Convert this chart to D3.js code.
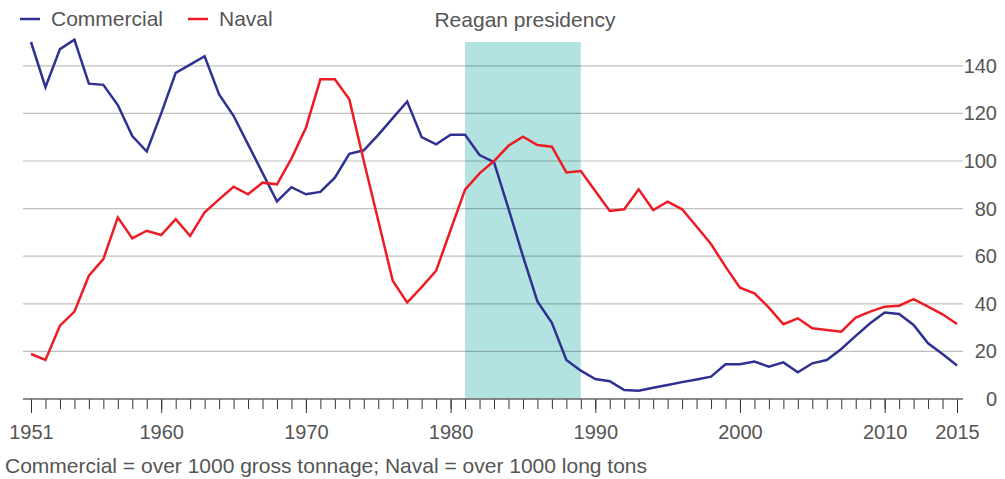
<!DOCTYPE html>
<html>
<head>
<meta charset="utf-8">
<script src="https://cdn.jsdelivr.net/npm/d3@7"></script>
<style>
  body { margin: 0; background: #fff; }
  svg { display: block; font-family: "Liberation Sans", Arial, sans-serif; }
</style>
</head>
<body>
<svg id="chart" width="1005" height="479"></svg>
<script>
// years 1951..2015
const years = d3.range(1951, 2016);

// ships launched per year
const commercial = [
  150, 131, 147, 151, 132.5, 132, 123.5, 110.5, 104, 120,
  137, 140.5, 144, 128, 119, 107, 95, 83, 89, 86,
  87, 93, 103, 104.5, 111, 118, 125, 110, 107, 111,
  111, 102.5, 99.5, 80, 60, 41, 32, 16.4, 11.9, 8.4,
  7.5, 3.8, 3.5, 4.7, 5.9, 7.1, 8.2, 9.4, 14.6, 14.6,
  15.7, 13.6, 15.4, 11.2, 15, 16.4, 21, 26.5, 31.8, 36.3,
  35.7, 31.1, 23.4, 18.9, 14.1
];
const naval = [
  18.9, 16.4, 30.8, 36.7, 51.8, 58.8, 76.3, 67.5, 70.7, 68.9,
  75.6, 68.5, 78.4, 83.9, 89.2, 86, 90.9, 90.2, 101, 114,
  134.3, 134.3, 125.9, 100, 75, 49.7, 40.5, 47, 53.9, 71,
  88, 94.8, 100, 106.4, 110.2, 106.7, 106, 95.2, 95.8, 87.4,
  79, 79.7, 88.1, 79.4, 82.9, 79.7, 72.5, 65.1, 55.6, 46.8,
  44.4, 38.4, 31.4, 33.9, 29.7, 29, 28.3, 34.2, 36.7, 38.8,
  39.2, 42, 38.8, 35.6, 31.5
];

const yTicks = [0, 20, 40, 60, 80, 100, 120, 140];
const xLabels = [1951, 1960, 1970, 1980, 1990, 2000, 2010, 2015];
const reagan = [1981, 1989];

const seriesNames = ["Commercial", "Naval"];
const seriesColors = ["#2e3192", "#ed1c24"];

const svg = d3.select("#chart");
const textColor = "#555";

const x = d3.scaleLinear().domain([1951, 2015]).range([31, 957]);
const y = d3.scaleLinear().domain([0, 150]).range([399, 42]);

// shaded presidency band
svg.append("rect")
  .attr("x", x(reagan[0]))
  .attr("y", y(150))
  .attr("width", x(reagan[1]) - x(reagan[0]))
  .attr("height", y(0) - y(150))
  .attr("fill", "#b3e3e0");

svg.append("text")
  .attr("x", (x(reagan[0]) + x(reagan[1])) / 2 + 2)
  .attr("y", 27)
  .attr("text-anchor", "middle")
  .attr("font-size", 21)
  .attr("fill", textColor)
  .text("Reagan presidency");

// gridlines + right-hand labels
const yAxis = d3.axisRight(y)
  .tickValues(yTicks)
  .tickSize(0)
  .tickPadding(0)
  .tickFormat(d3.format("d"));

svg.append("g")
  .selectAll("line")
  .data(yTicks.filter(d => d > 0))
  .join("line")
  .attr("x1", 23)
  .attr("x2", 963)
  .attr("y1", d => y(d))
  .attr("y2", d => y(d))
  .attr("stroke", "#000")
  .attr("stroke-opacity", 0.25)
  .attr("stroke-width", 1.2);

const yg = svg.append("g")
  .attr("transform", "translate(997,0)")
  .call(yAxis);
yg.select(".domain").remove();
yg.selectAll("text")
  .attr("text-anchor", "end")
  .attr("font-size", 20)
  .attr("font-family", "Liberation Sans, Arial, sans-serif")
  .attr("fill", textColor);

// x axis: minor ticks every year, long ticks at labelled years
const xMinor = d3.axisBottom(x)
  .tickValues(years)
  .tickSize(10)
  .tickFormat("");
const xMajor = d3.axisBottom(x)
  .tickValues(xLabels)
  .tickSize(14)
  .tickPadding(12)
  .tickFormat(d3.format("d"));

const xgMinor = svg.append("g")
  .attr("transform", `translate(0,${y(0)})`)
  .call(xMinor);
xgMinor.select(".domain").remove();
xgMinor.selectAll("line").attr("stroke", "#333");

const xgMajor = svg.append("g")
  .attr("transform", `translate(0,${y(0)})`)
  .call(xMajor);
xgMajor.select(".domain").remove();
xgMajor.selectAll("line").attr("stroke", "#333");
xgMajor.selectAll("text")
  .attr("font-size", 20)
  .attr("font-family", "Liberation Sans, Arial, sans-serif")
  .attr("fill", textColor);

svg.append("line")
  .attr("x1", 23)
  .attr("x2", 963)
  .attr("y1", y(0))
  .attr("y2", y(0))
  .attr("stroke", "#666")
  .attr("stroke-width", 1.5);

// the two series
const line = d3.line()
  .x((d, i) => x(years[i]))
  .y(d => y(d));

[commercial, naval].forEach((vals, k) => {
  svg.append("path")
    .datum(vals)
    .attr("d", line)
    .attr("fill", "none")
    .attr("stroke", seriesColors[k])
    .attr("stroke-width", 2.5)
    .attr("stroke-linejoin", "miter");
});

// legend
const legendX = [20, 188];
seriesNames.forEach((name, k) => {
  const g = svg.append("g").attr("transform", `translate(${legendX[k]},19)`);
  g.append("line")
    .attr("x1", 0).attr("x2", 20)
    .attr("stroke", seriesColors[k])
    .attr("stroke-width", 2.5);
  g.append("text")
    .attr("x", 31)
    .attr("y", 7)
    .attr("font-size", 21)
    .attr("fill", textColor)
    .text(name);
});

// footnote
svg.append("text")
  .attr("x", 5)
  .attr("y", 473)
  .attr("font-size", 21)
  .attr("fill", textColor)
  .text("Commercial = over 1000 gross tonnage; Naval = over 1000 long tons");
</script>
</body>
</html>
